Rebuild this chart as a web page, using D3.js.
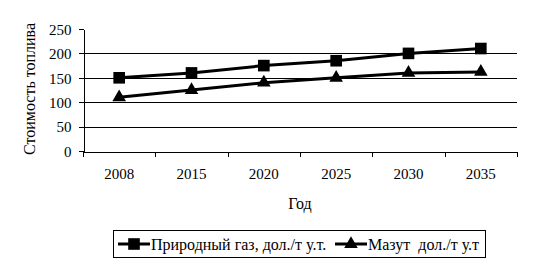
<!DOCTYPE html>
<html>
<head>
<meta charset="utf-8">
<title>Стоимость топлива</title>
<style type="text/css">
    body { margin: 0; background: #fff; }
    svg text { font-family: "Liberation Serif", "Times New Roman", serif; font-size: 16px; fill: #000; white-space: pre; }
    .axis path, .axis line { stroke: #000; shape-rendering: crispEdges; }
    .grid line { stroke: #000; shape-rendering: crispEdges; }
</style>
</head>
<body>
<script src="https://cdn.jsdelivr.net/npm/d3@7/dist/d3.min.js"></script>
<script>
var years = ["2008", "2015", "2020", "2025", "2030", "2035"];
var gasValues = [150, 160, 175, 185, 200, 210];
var mazutValues = [110, 125, 140, 150, 160, 162];
var yTicks = [0, 50, 100, 150, 200, 250];
var seriesNames = ["Природный газ, дол./т у.т.", "Мазут  дол./т у.т"];

var series = [
    { name: seriesNames[0], values: gasValues, marker: d3.symbolSquare, size: 135 },
    { name: seriesNames[1], values: mazutValues, marker: d3.symbolTriangle, size: 80 }
];

var width = 533, height = 266;
var margin = { top: 29, right: 16, bottom: 115, left: 83 };

var x = d3.scaleBand().domain(years).range([margin.left, width - margin.right]);
var y = d3.scaleLinear().domain([0, 250]).range([height - margin.bottom, margin.top]);

var svg = d3.select("body").append("svg")
    .attr("width", width)
    .attr("height", height);

// horizontal gridlines
svg.append("g").attr("class", "grid")
    .selectAll("line")
    .data(yTicks.filter(function(d) { return d > 0 && d < 250; }))
    .enter().append("line")
    .attr("x1", margin.left).attr("x2", width - margin.right)
    .attr("y1", function(d) { return Math.round(y(d)) + 0.5; })
    .attr("y2", function(d) { return Math.round(y(d)) + 0.5; });

// y axis
var yAxis = svg.append("g").attr("class", "axis")
    .attr("transform", "translate(" + (margin.left + 0.5) + ",0)")
    .call(d3.axisLeft(y).tickValues(yTicks).tickSize(5).tickSizeOuter(0).tickPadding(7));
yAxis.selectAll("text").style("font-size", "15px").attr("dy", "0.35em");

// x axis
var xAxis = svg.append("g").attr("class", "axis")
    .attr("transform", "translate(0," + (y(0) + 0.5) + ")")
    .call(d3.axisBottom(x).tickSize(0).tickSizeOuter(0).tickPadding(17));
xAxis.selectAll(".tick line").remove();
xAxis.selectAll("text").style("font-size", "15px");

// x ticks at band edges
var edges = years.map(function(d) { return x(d); }).concat([x.range()[1]]);
xAxis.selectAll(".edge")
    .data(edges)
    .enter().append("line")
    .attr("class", "edge")
    .attr("x1", function(d) { return Math.round(d) + 0.5; })
    .attr("x2", function(d) { return Math.round(d) + 0.5; })
    .attr("y1", 0).attr("y2", 5);

// axis titles
svg.append("text")
    .attr("x", x.range()[0] + (x.range()[1] - x.range()[0]) / 2)
    .attr("y", 209)
    .attr("text-anchor", "middle")
    .text("Год");

svg.append("text")
    .attr("transform", "translate(35," + 89 + ") rotate(-90)")
    .attr("text-anchor", "middle")
    .text("Стоимость топлива");

// lines and markers
var line = d3.line()
    .x(function(d, i) { return x(years[i]) + x.bandwidth() / 2; })
    .y(function(d) { return y(d); });

var g = svg.selectAll(".series")
    .data(series)
    .enter().append("g")
    .attr("class", "series");

g.append("path")
    .attr("d", function(d) { return line(d.values); })
    .attr("fill", "none")
    .attr("stroke", "#000")
    .attr("stroke-width", 3);

g.each(function(s) {
    d3.select(this).selectAll(".mark")
        .data(s.values)
        .enter().append("path")
        .attr("class", "mark")
        .attr("d", d3.symbol().type(s.marker).size(s.size))
        .attr("transform", function(d, i) {
            return "translate(" + (x(years[i]) + x.bandwidth() / 2) + "," + y(d) + ")";
        })
        .attr("fill", "#000");
});

// legend
var legend = svg.append("g");
legend.append("rect")
    .attr("x", 113.5).attr("y", 230.5)
    .attr("width", 372).attr("height", 27)
    .attr("fill", "none").attr("stroke", "#000");

var legendX = [118, 335];
var item = legend.selectAll(".item")
    .data(series)
    .enter().append("g")
    .attr("class", "item")
    .attr("transform", function(d, i) { return "translate(" + legendX[i] + ",244)"; });

item.append("line")
    .attr("x1", 0).attr("x2", 32)
    .attr("stroke", "#000").attr("stroke-width", 3);
item.append("path")
    .attr("d", function(d) { return d3.symbol().type(d.marker).size(d.size)(); })
    .attr("transform", "translate(16,0)")
    .attr("fill", "#000");
item.append("text")
    .attr("x", 33)
    .attr("dy", "0.35em")
    .text(function(d) { return d.name; });
</script>
</body>
</html>
